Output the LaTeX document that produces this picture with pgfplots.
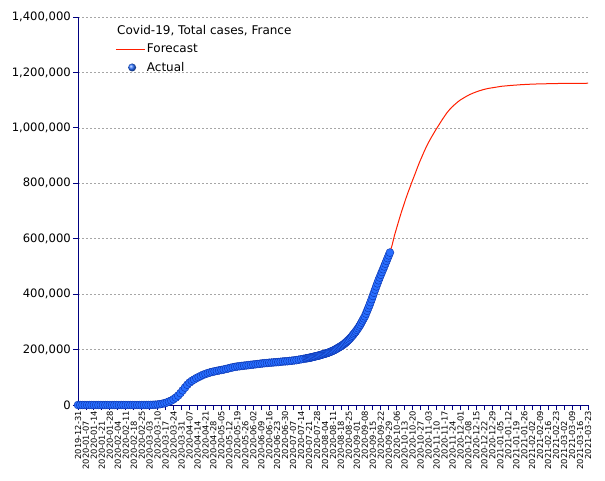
\documentclass[border=0pt]{standalone}
\usepackage{fontspec}
\setmainfont{DejaVu Sans}
\usepackage{pgfplots}
\pgfplotsset{compat=1.18}
\definecolor{navyax}{RGB}{0,0,128}
\definecolor{fcred}{RGB}{255,30,0}
\definecolor{ballblue}{RGB}{40,110,255}
\definecolor{balledge}{RGB}{10,50,170}
\newcommand{\s}[1]{#1\kern10pt\hbox{}}
\begin{document}
\begin{tikzpicture}[x=1pt,y=1pt]
\useasboundingbox (-78,-75) rectangle (527,405);
\begin{axis}[
  at={(0,0)}, anchor=south west,
  scale only axis, width=510pt, height=388pt,
  xmin=0, xmax=448, ymin=0, ymax=1400000,
  clip=false,
  axis x line*=bottom, axis y line*=left,
  axis line style={navyax, line width=0.9pt},
  tick style={navyax, line width=0.9pt},
  tick align=outside,
  major tick length=5pt,
  xtick={0,7,...,448},
  xticklabels={2019-12-31,\s{2020-01-07},2020-01-14,\s{2020-01-21},2020-01-28,\s{2020-02-04},2020-02-11,\s{2020-02-18},2020-02-25,\s{2020-03-03},2020-03-10,\s{2020-03-17},2020-03-24,\s{2020-03-31},2020-04-07,\s{2020-04-14},2020-04-21,\s{2020-04-28},2020-05-05,\s{2020-05-12},2020-05-19,\s{2020-05-26},2020-06-02,\s{2020-06-09},2020-06-16,\s{2020-06-23},2020-06-30,\s{2020-07-07},2020-07-14,\s{2020-07-21},2020-07-28,\s{2020-08-04},2020-08-11,\s{2020-08-18},2020-08-25,\s{2020-09-01},2020-09-08,\s{2020-09-15},2020-09-22,\s{2020-09-29},2020-10-06,\s{2020-10-13},2020-10-20,\s{2020-10-27},2020-11-03,\s{2020-11-10},2020-11-17,\s{2020-11-24},2020-12-01,\s{2020-12-08},2020-12-15,\s{2020-12-22},2020-12-29,\s{2021-01-05},2021-01-12,\s{2021-01-19},2021-01-26,\s{2021-02-02},2021-02-09,\s{2021-02-16},2021-02-23,\s{2021-03-02},2021-03-09,\s{2021-03-16},2021-03-23},
  xticklabel style={rotate=90, anchor=east, font=\fontsize{8.3}{9}\selectfont, inner sep=1pt},
  ytick={0,200000,400000,600000,800000,1000000,1200000,1400000},
  scaled y ticks=false,
  /pgf/number format/assume math mode=true,
  /pgf/number format/fixed,
  /pgf/number format/1000 sep={,},
  yticklabel style={font=\fontsize{11.6}{13}\selectfont, inner sep=2pt},
  ymajorgrids,
  grid style={gray!70, dash pattern=on 2pt off 2pt, line width=0.5pt},
  legend cell align=left,
  legend style={draw=none, fill=none, at={(axis description cs:0.073,0.935)}, anchor=north west,
    font=\fontsize{12}{14}\selectfont, inner sep=0pt, row sep=5pt, nodes={inner sep=1.5pt}},
]
\addplot[fcred, line width=1pt, no markers,
  legend image code/.code={\draw[fcred, line width=1pt] (0pt,0pt) -- (29pt,0pt);}]
  coordinates {(274,550000) (276,578000) (278,612000) (280,640000) (282,668000) (284,695000) (286,720000) (288,745000) (290,768000) (292,790000) (294,812000) (296,833000) (298,855000) (300,876000) (302,895000) (304,914000) (306,932000) (308,948000) (310,963000) (312,977000) (314,991000) (316,1004000) (318,1017000) (320,1030000) (322,1042000) (324,1054000) (326,1064000) (328,1073000) (330,1081000) (332,1088000) (334,1095000) (336,1101000) (338,1106000) (340,1111000) (344,1120000) (348,1127000) (352,1133000) (356,1138000) (360,1142000) (366,1146000) (372,1150000) (380,1153000) (390,1156000) (400,1158000) (420,1160000) (448,1161000)};
\addlegendentry{Forecast}
\addplot[only marks, mark=*, mark size=4pt, mark options={fill=ballblue, draw=balledge, line width=0.4pt},
  legend image code/.code={\draw (12pt,0pt) node[circle, inner sep=0pt, minimum size=8pt, ball color=ballblue] {};}]
  coordinates {
(0,0) (2,0) (4,0) (6,0) (8,0) (10,0) (12,0) (14,0) (16,0) (18,0) (20,0) (22,0) (24,0) (26,0) (28,0) (30,0) (32,0) (34,0) (36,0) (38,0) (40,0) (42,0) (44,0) (46,0) (48,0) (50,0) (52,0) (54,0)
(56,12) (58,38) (60,100) (62,191) (64,285) (66,613) (68,1126) (70,1784) (72,2876) (74,4469) (76,6633) (78,9134) (80,12612) (82,16000) (84,21000) (86,27000) (88,34000) (90,43000) (92,53000) (94,63000) (96,73000) (98,81000) (100,87000) (102,92000) (104,97000) (106,101000) (108,105000) (110,109000) (112,112000) (114,115000) (116,117500) (118,119500) (120,121500) (122,123000) (124,125000) (126,126500) (128,128000) (130,130000) (132,132000) (134,134000) (136,136000) (138,137500) (140,139000) (142,140000) (144,141000) (146,142000) (148,143000) (150,144000) (152,145000) (154,146000) (156,147000) (158,148000) (160,149000) (162,150000) (164,151000) (166,151500) (168,152500) (170,153000) (172,154000) (174,154500) (176,155000) (178,156000) (180,157000) (182,157500) (184,158000) (186,159000) (188,160000) (190,161000) (192,162000) (194,163500) (196,165000) (198,166500)
(200,168000) (201,168800) (202,169500) (203,170200) (204,171000) (205,172000) (206,173000) (207,174000) (208,175000) (209,176000) (210,177000) (211,178000) (212,179000) (213,180200) (214,181500) (215,182700) (216,184000) (217,185200) (218,186500) (219,187700) (220,189000) (221,190700) (222,192500) (223,194200) (224,196000) (225,198000) (226,200000) (227,202500) (228,205000) (229,207500) (230,210000) (231,212500) (232,215000) (233,218000) (234,221000) (235,224500) (236,228000) (237,232000) (238,236000) (239,240500) (240,245000) (241,250000) (242,255000) (243,260000) (244,265000) (245,271000) (246,277000) (247,283500) (248,290000) (249,297500) (250,305000) (251,312500) (252,320000) (253,330000) (254,340000) (255,350000) (256,360000) (257,371000) (258,382000) (259,393500) (260,405000) (261,416500) (262,428000) (263,439000) (264,450000) (265,460000) (266,470000) (267,480000) (268,490000) (269,500000) (270,510000) (271,520000) (272,530000) (273,540000) (274,550000)
  };
\addlegendentry{Actual}
\node[anchor=west, inner sep=0pt, font=\fontsize{12}{14}\selectfont] at (axis description cs:0.0765,0.966) {Covid-19, Total cases, France};
\end{axis}
\end{tikzpicture}
\end{document}
